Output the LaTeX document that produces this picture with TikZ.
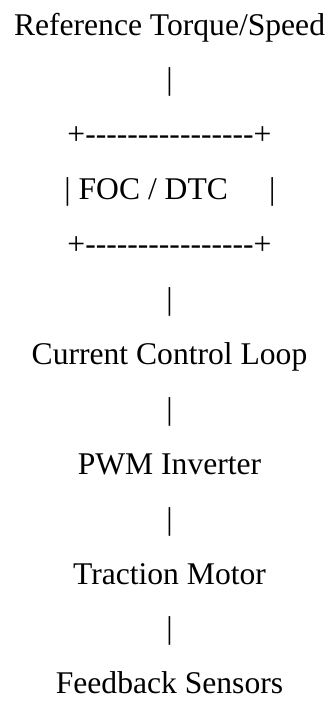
\documentclass[tikz,border=0pt]{standalone}
\usepackage{fontspec}
\newfontfamily\tnr{Liberation Serif}
\newcommand\dashrow{+-{}-{}-{}-{}-{}-{}-{}-{}-{}-{}-{}-{}-{}-{}-{}-{}+}
\tikzset{
  line/.style={font=\tnr\fontsize{23.7}{28}\selectfont, inner sep=0pt, anchor=base, text=black}
}
\begin{document}
\begin{tikzpicture}[x=0.75pt,y=-0.75pt]
\useasboundingbox (0,0) rectangle (329,701);
\node[line] (ref)  at (169.5,35)    {Reference Torque/Speed};
\node[line] (b1)   at (169.5,89.9)  {|};
\node[line] (top)  at (169.5,144.8) {\dashrow};
\node[line] (foc)  at (170,199.7)   {| FOC / DTC\hspace{31pt}|};
\node[line] (bot)  at (169.5,254.6) {\dashrow};
\node[line] (b2)   at (169.5,309.5) {|};
\node[line] (ccl)  at (169.5,364.4) {Current Control Loop};
\node[line] (b3)   at (169.5,419.3) {|};
\node[line] (pwm)  at (169.5,474.2) {PWM Inverter};
\node[line] (b4)   at (169.5,529.1) {|};
\node[line] (tm)   at (169.5,584)   {Traction Motor};
\node[line] (b5)   at (169.5,638.9) {|};
\node[line] (fb)   at (169.5,693.6) {Feedback Sensors};
\end{tikzpicture}
\end{document}
